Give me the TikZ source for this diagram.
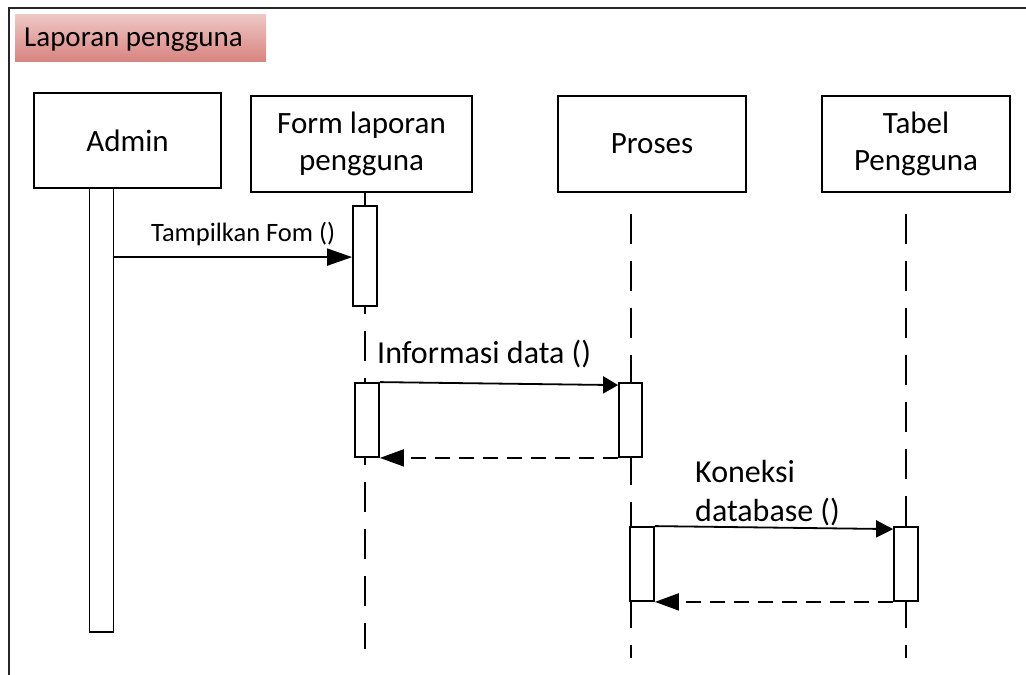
\documentclass[tikz,border=0pt]{standalone}
\usepackage{fontspec}
\setmainfont{Carlito}
\usetikzlibrary{arrows.meta,calc}
\definecolor{titletop}{RGB}{238,200,198}
\definecolor{titlebot}{RGB}{216,132,128}
\begin{document}
\begin{tikzpicture}[x=1pt,y=-1pt,
  headbox/.style={draw, line width=1.8pt, minimum height=96pt, inner sep=0pt,
    align=center, font=\fontsize{31}{37}\selectfont},
  actbar/.style={draw, line width=1.8pt, fill=white, minimum width=24pt, inner sep=0pt},
  life/.style={line width=2pt, dash pattern=on 30pt off 17pt},
  msg/.style={line width=1.8pt, -{Triangle[length=#1,width=17pt]}},
  msg/.default=24pt,
  ret/.style={msg, dash pattern=on 15pt off 9pt},
  lbl/.style={inner sep=0pt, anchor=base west, font=\fontsize{32}{39}\selectfont, align=left},
]
\useasboundingbox (0,0) rectangle (1026,675);

% frame (top and left edges)
\draw[line width=2.5pt, black!85] (9,675) -- (9,8) -- (1026,8);

% frame title
\node[shade, top color=titletop, bottom color=titlebot, minimum width=251pt,
  minimum height=47pt, inner sep=0pt, anchor=north west] (title) at (15,14) {};
\node[inner sep=0pt, anchor=base west, font=\fontsize{29}{32}\selectfont] (titletext)
  at (24,46) {Laporan pengguna};

% lifeline heads
\node[headbox, minimum width=187pt, minimum height=95pt] (ah) at (127.5,140.5) {Admin};
\node[headbox, minimum width=221pt] (fh) at (361.5,144) {Form laporan\\pengguna};
\node[headbox, minimum width=188pt] (ph) at (652,144) {Proses};
\node[headbox, minimum width=188pt] (th) at (916,144) {Tabel\\Pengguna};

% activation bars
\node[actbar, minimum height=444pt] (ab) at (101.5,410) {};
\node[actbar, minimum height=100pt] (fb1) at (365,256) {};
\node[actbar, minimum height=74pt] (fb2) at (367,420) {};
\node[actbar, minimum width=23pt, minimum height=74pt] (pb1) at (630.5,420) {};
\node[actbar, minimum height=74pt] (pb2) at (642,564) {};
\node[actbar, minimum height=74pt] (tb) at (906,564) {};

% lifelines
\draw[line width=2pt] (fb1.north |- fh.south) -- (fb1.north);
\draw[life, dash phase=23pt] (fb1.south) -- (fb1.south |- fb2.north);
\draw[life, dash phase=23pt] (fb1.south |- fb2.south) -- ++(0,191);

\coordinate (ptop) at ($(pb1.north |- ph.south)+(0,21)$);
\draw[life] (ptop) -- (pb1.north);
\draw[life, dash phase=3pt] (pb1.south) -- (pb1.south |- pb2.north);
\draw[life, dash phase=4pt] (pb1.south |- pb2.south) -- ++(0,56);

\coordinate (ttop) at ($(tb.north |- th.south)+(0,21)$);
\draw[life] (ttop) -- (tb.north);
\draw[life, dash phase=4pt] (tb.south) -- ++(0,56);

% messages
\coordinate (m1) at ($(ab.north east)+(0,70)$);
\draw[msg=25pt] (m1) -- (m1 -| fb1.west);
\draw[msg=15pt] (fb2.north east) -- ([yshift=-3pt]pb1.north west);
\draw[ret] (pb1.south west) -- (fb2.south east);
\draw[msg=17pt] (pb2.north east) -- ([yshift=-3pt]tb.north west);
\draw[ret] (tb.south west) -- (pb2.south east);

% message labels
\node[lbl, font=\fontsize{26.5}{30}\selectfont] (l1) at (151,241) {Tampilkan Fom ()};
\node[lbl] (l2) at (377,363) {Informasi data ()};
\node[lbl] (l3) at (695,521) {Koneksi\\database ()};
\end{tikzpicture}
\end{document}
